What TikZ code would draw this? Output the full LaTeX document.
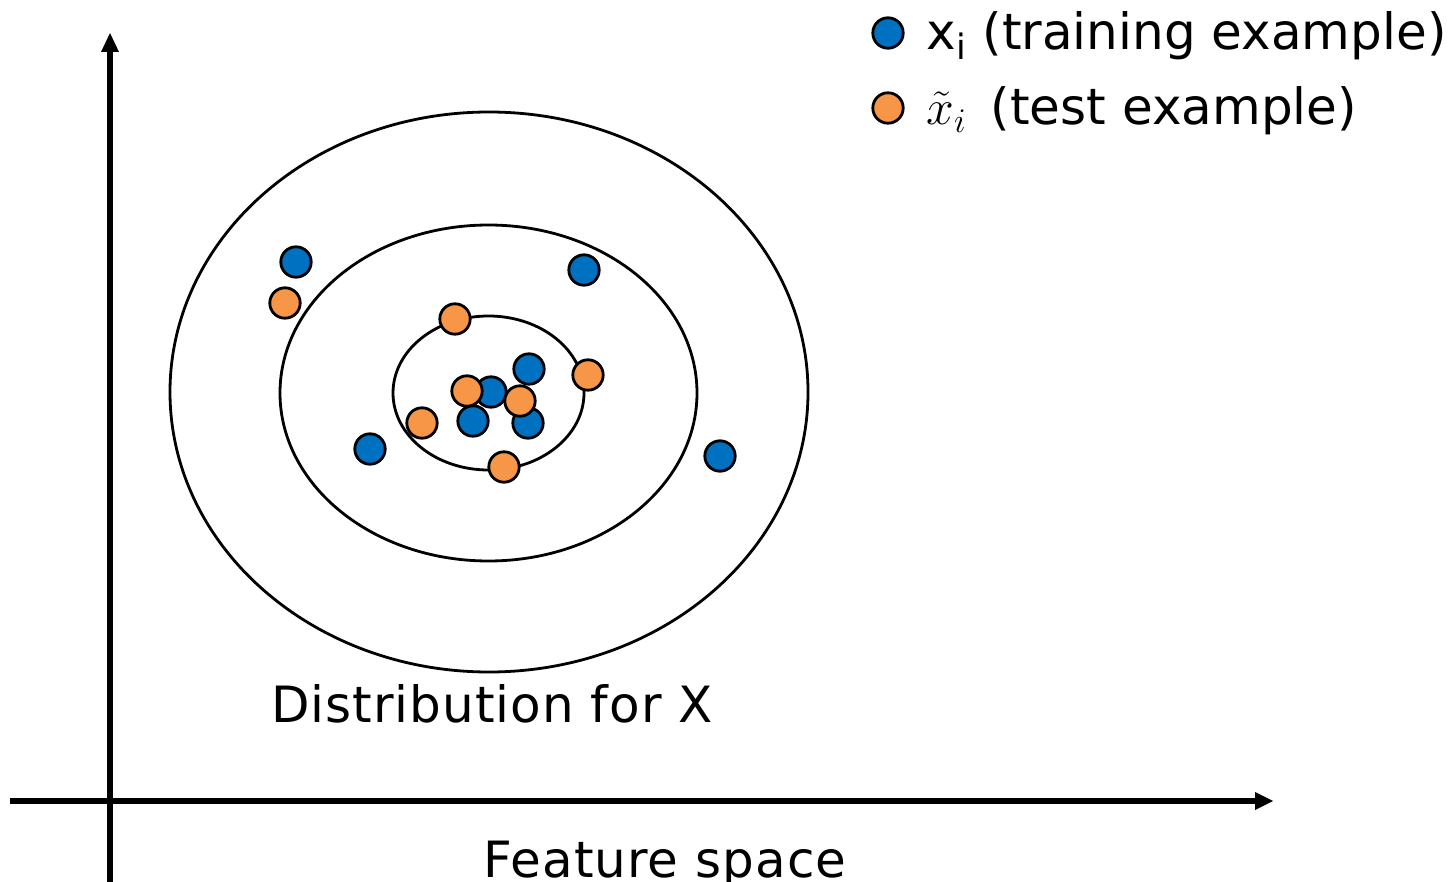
\documentclass[tikz,border=0pt]{standalone}
\usepackage{fontspec}
\setmainfont{DejaVu Sans}
\newfontfamily\widefont{DejaVu Sans}[LetterSpace=2]
\usepackage{amsmath}
\definecolor{trainblue}{HTML}{0070C0}
\definecolor{testorange}{HTML}{F79646}

\begin{document}
\begin{tikzpicture}[x=0.5pt, y=-0.5pt, line width=1.4pt,
  train/.style={circle, draw=black, fill=trainblue, line width=1.4pt, inner sep=0pt, minimum size=15.2pt},
  test/.style={circle, draw=black, fill=testorange, line width=1.4pt, inner sep=0pt, minimum size=15.2pt},
  lbl/.style={font=\fontsize{25}{30}\selectfont, inner sep=0pt},
  widelbl/.style={font=\widefont\fontsize{25}{30}\selectfont, inner sep=0pt}]
\useasboundingbox (0,0) rectangle (1455,882);
% axes
\coordinate (xl) at (10,801);
\coordinate (xr) at (1257,801);
\coordinate (yb) at (110,890);
\coordinate (yt) at (110,50);
\draw [line width=3pt] (xl) -- (xr);
\fill [shift={(1273,801)}, rotate=0] (0,0) -- (-18,9) -- (-18,-9) -- cycle;
\draw [line width=3pt] (yb) -- (yt);
\fill [shift={(110,33)}, rotate=90] (0,0) -- (-19,9) -- (-19,-9) -- cycle;
% ellipses
\draw (808,392) arc(0:360:319 and 280);
\draw (697,393) arc(0:360:208.5 and 168);
\draw (584,393) arc(0:360:95.5 and 77);
% training points
\node [train] (b1) at (296,262) {};
\node [train] (b2) at (584,270) {};
\node [train] (b3) at (529,369) {};
\node [train] (b4) at (491,392) {};
\node [train] (b5) at (473,421) {};
\node [train] (b6) at (528,423) {};
\node [train] (b7) at (370,449) {};
\node [train] (b8) at (720,456) {};
% test points
\node [test] (o1) at (285,303) {};
\node [test] (o2) at (455,319) {};
\node [test] (o3) at (588,375) {};
\node [test] (o4) at (467,391) {};
\node [test] (o5) at (520,401) {};
\node [test] (o6) at (422,423) {};
\node [test] (o7) at (504,467) {};
% legend
\node [train] (lgtrain) at (888,33) {};
\node [test] (lgtest) at (888,108) {};
\node [lbl, anchor=base west] (lgtraintext) at (925,50) {x\textsubscript{i} (training example)};
\node [lbl, anchor=base west] (lgtesttext) at (925,125) {$\tilde{x}_i$\, (test example)};
%Text
\node [widelbl, anchor=base] (disttext) at (492,722) {Distribution for X};
\node [widelbl, anchor=base] (featuretext) at (665,877) {Feature space};
\end{tikzpicture}
\end{document}
